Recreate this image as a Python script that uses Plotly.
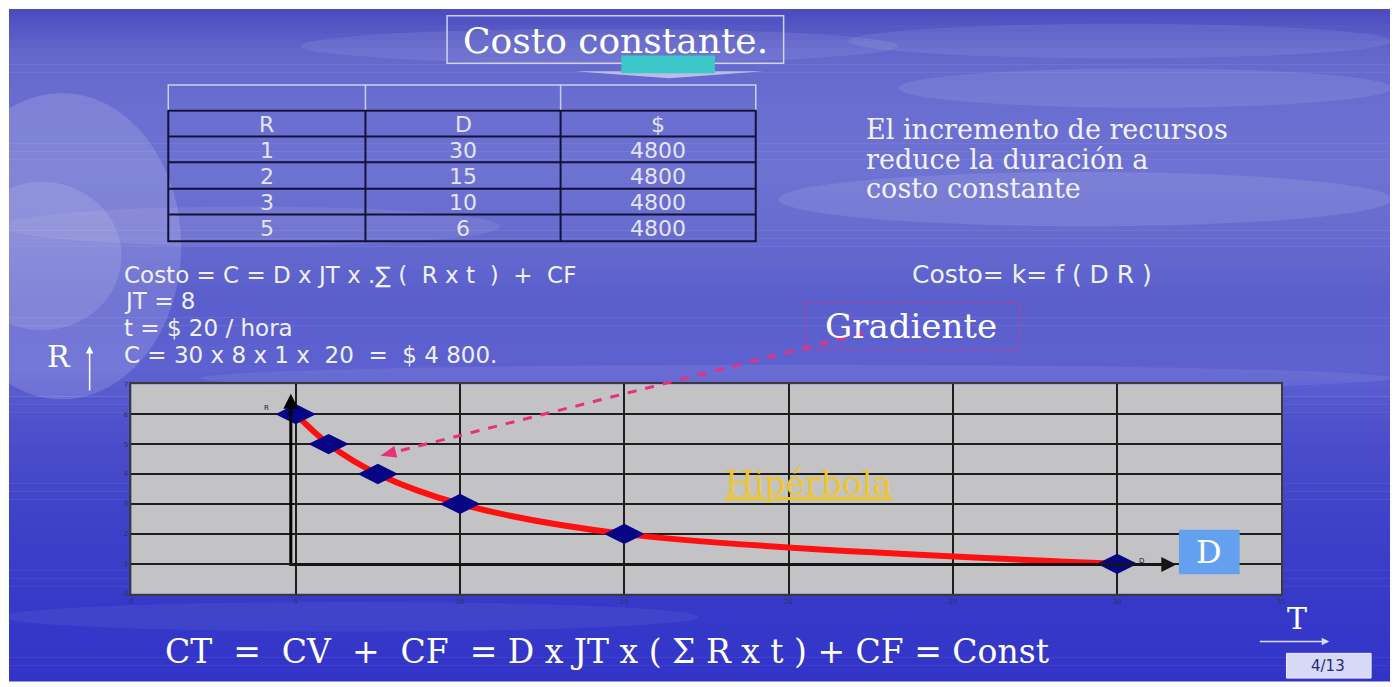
import plotly.graph_objects as go

# ---------------- data ----------------
chart_D = [5, 6, 7.5, 10, 15, 30]
chart_R = [6, 5, 4, 3, 2, 1]

table_header = ["R", "D", "$"]
table_R = [1, 2, 3, 5]
table_D = [30, 15, 10, 6]
table_cost = [4800, 4800, 4800, 4800]

x_ticks = [0, 5, 10, 15, 20, 25, 30, 35]
y_ticks = [0, 1, 2, 3, 4, 5, 6, 7]

W, H = 1396, 687


def px(x):
    return x / W


def py(y):
    return 1 - y / H


SERIF = "DejaVu Serif"
SANS = "DejaVu Sans"
nb = "\u00a0"

shapes = []
annotations = []


def txt(x, y, text, size, family=SANS, color="white", xanchor="left", pad=1):
    annotations.append(dict(x=px(x), y=py(y), xref="paper", yref="paper",
                            xanchor=xanchor, yanchor="middle", text=text,
                            showarrow=False, borderpad=pad,
                            font=dict(family=family, size=size, color=color)))


# ---------------- background (slide) ----------------
stops = [
    (5, (74, 76, 190)),
    (50, (100, 104, 204)),
    (110, (106, 110, 208)),
    (170, (110, 114, 210)),
    (240, (102, 106, 206)),
    (300, (90, 94, 204)),
    (370, (94, 98, 208)),
    (420, (78, 82, 204)),
    (520, (62, 66, 200)),
    (600, (54, 58, 200)),
    (685, (50, 52, 200)),
]


def col_at(y):
    for (y0, c0), (y1, c1) in zip(stops[:-1], stops[1:]):
        if y0 <= y <= y1:
            t = (y - y0) / (y1 - y0)
            return tuple(round(a + (b - a) * t) for a, b in zip(c0, c1))
    return stops[-1][1]


step = 8
y = 5
while y < 685:
    y2 = min(y + step, 685)
    c = col_at((y + y2) / 2)
    shapes.append(dict(type="rect", xref="paper", yref="paper", layer="below",
                       x0=px(7), x1=px(1394), y0=py(y2 + 0.5), y1=py(y),
                       fillcolor=f"rgb{c}", line=dict(width=0)))
    y = y2

# cloud streaks / glow
clouds = [
    (-60, 90, 180, 400, 0.14),
    (-40, 180, 120, 330, 0.12),
    (300, 25, 900, 60, 0.08),
    (850, 20, 1396, 55, 0.08),
    (900, 65, 1396, 105, 0.09),
    (780, 170, 1396, 225, 0.10),
    (0, 205, 500, 245, 0.08),
    (200, 365, 1396, 392, 0.07),
    (0, 605, 700, 635, 0.06),
]
for x0, y0, x1, y1, op in clouds:
    shapes.append(dict(type="circle", xref="paper", yref="paper", layer="below",
                       x0=px(x0), x1=px(x1), y0=py(y1), y1=py(y0),
                       fillcolor="white", opacity=op, line=dict(width=0)))
# white page margin on the left
shapes.append(dict(type="rect", xref="paper", yref="paper", layer="below",
                   x0=px(-100), x1=px(7), y0=0, y1=1, fillcolor="white", line=dict(width=0)))

# plot area background (grey)
shapes.append(dict(type="rect", xref="x domain", yref="y domain", layer="below",
                   x0=0, x1=1, y0=0, y1=1, fillcolor="#c3c3c6",
                   line=dict(width=0)))

# ---------------- title box ----------------
shapes.append(dict(type="rect", xref="paper", yref="paper",
                   x0=px(447), x1=px(785), y0=py(60), y1=py(12),
                   line=dict(color="rgba(220,222,245,0.9)", width=1.5)))
shapes.append(dict(type="path", xref="paper", yref="paper",
                   path=f"M {px(575)},{py(68)} L {px(765)},{py(68)} L {px(670)},{py(75)} Z",
                   fillcolor="rgba(200,205,235,0.85)", line=dict(width=0)))
shapes.append(dict(type="rect", xref="paper", yref="paper",
                   x0=px(622), x1=px(716), y0=py(70), y1=py(52),
                   fillcolor="#3cc8c8", line=dict(width=0)))
txt(616, 37, "Costo constante.", 36, SERIF, "white", "center")

# ---------------- table ----------------
tx = [167, 365, 561, 757]
ty = [82, 108, 134, 160, 187, 213, 240]
light = "rgba(215,218,240,0.9)"
dark = "#121238"
shapes.append(dict(type="rect", xref="paper", yref="paper",
                   x0=px(tx[0]), x1=px(tx[3]), y0=py(ty[1]), y1=py(ty[0]),
                   line=dict(color=light, width=1.5)))
for xx in tx[1:3]:
    shapes.append(dict(type="line", xref="paper", yref="paper",
                       x0=px(xx), x1=px(xx), y0=py(ty[1]), y1=py(ty[0]),
                       line=dict(color=light, width=1.5)))
shapes.append(dict(type="rect", xref="paper", yref="paper",
                   x0=px(tx[0]), x1=px(tx[3]), y0=py(ty[6]), y1=py(ty[1]),
                   line=dict(color=dark, width=2)))
for yy in ty[2:6]:
    shapes.append(dict(type="line", xref="paper", yref="paper",
                       x0=px(tx[0]), x1=px(tx[3]), y0=py(yy), y1=py(yy),
                       line=dict(color=dark, width=2)))
for xx in tx[1:3]:
    shapes.append(dict(type="line", xref="paper", yref="paper",
                       x0=px(xx), x1=px(xx), y0=py(ty[6]), y1=py(ty[1]),
                       line=dict(color=dark, width=2)))

col_centers = [(tx[i] + tx[i + 1]) / 2 for i in range(3)]
rows = [table_header] + [[str(a), str(b), str(c)] for a, b, c in zip(table_R, table_D, table_cost)]
for ri, row in enumerate(rows):
    yc = (ty[ri + 1] + ty[ri + 2]) / 2 + 1
    for ci, val in enumerate(row):
        txt(col_centers[ci], yc, val, 22, SANS, "#e4e4f0", "center", pad=0)

# ---------------- right text ----------------
for i, line in enumerate(["El incremento de recursos", "reduce la duración a", "costo constante"]):
    txt(867, 127 + 30 * i, line, 27, SERIF, "#f2f2fa", pad=0)

# ---------------- formulas ----------------
FS = 23
fc = "#f0f0f8"
txt(122, 274, f"Costo = C = D x JT x .∑ ( {nb}R x t {nb}) {nb}+ {nb}CF", FS, SANS, fc, pad=0)
txt(122, 301, "JT = 8", FS, SANS, fc, pad=0)
txt(122, 328, "t = $ 20 / hora", FS, SANS, fc, pad=0)
txt(122, 355, f"C = 30 x 8 x 1 x {nb}20 {nb}= {nb}$ 4 800.", FS, SANS, fc, pad=0)
txt(913, 274, "Costo= k= f ( D R )", 25, SANS, fc, pad=0)

# Gradiente box
shapes.append(dict(type="rect", xref="paper", yref="paper",
                   x0=px(806), x1=px(1022), y0=py(350), y1=py(303),
                   line=dict(color="#c83c8c", width=1.2, dash="dot")))
txt(913, 326, "Gradiente", 34, SERIF, "white", "center")

# dashed pink arrow
sx, sy = 865, 333
hx, hy = 380, 457
dx, dy = hx - sx, hy - sy
L = (dx * dx + dy * dy) ** 0.5
ux, uy = dx / L, dy / L
bx, by = hx - 16 * ux, hy - 16 * uy
nx_, ny_ = -uy, ux
shapes.append(dict(type="line", xref="paper", yref="paper",
                   x0=px(sx), y0=py(sy), x1=px(bx), y1=py(by),
                   line=dict(color="#e8307c", width=3, dash="dash")))
shapes.append(dict(type="path", xref="paper", yref="paper",
                   path=(f"M {px(hx)},{py(hy)} L {px(bx + 6 * nx_)},{py(by + 6 * ny_)} "
                         f"L {px(bx - 6 * nx_)},{py(by - 6 * ny_)} Z"),
                   fillcolor="#e8307c", line=dict(width=0)))

# R label with arrow
txt(57, 357, "R", 30, SERIF, "white", "center")
annotations.append(dict(x=px(88), y=py(346), xref="paper", yref="paper",
                        ax=0, ay=46, text="", showarrow=True, arrowhead=2,
                        arrowsize=1, arrowwidth=1.5, arrowcolor="white"))

# ---------------- chart ----------------
fig = go.Figure()
fig.add_trace(go.Scatter(x=chart_D, y=chart_R, mode="lines",
                         line=dict(color="#ff1010", width=6, shape="spline", smoothing=1.0),
                         hoverinfo="skip", showlegend=False))
fig.add_trace(go.Scatter(x=chart_D, y=chart_R, mode="markers",
                         marker=dict(symbol="diamond-wide", size=29, color="#050585",
                                     line=dict(width=0)),
                         showlegend=False))

# black axes arrows inside chart
annotations.append(dict(x=4.85, y=6.68, xref="x", yref="y", ax=4.85, ay=0.98,
                        axref="x", ayref="y", text="", showarrow=True, arrowhead=2,
                        arrowsize=1, arrowwidth=3, arrowcolor="black", standoff=0))
annotations.append(dict(x=31.8, y=0.98, xref="x", yref="y", ax=4.75, ay=0.98,
                        axref="x", ayref="y", text="", showarrow=True, arrowhead=2,
                        arrowsize=1, arrowwidth=3, arrowcolor="#151515", standoff=0))
annotations.append(dict(x=4.1, y=6.22, xref="x", yref="y", text="R", showarrow=False,
                        xanchor="center", yanchor="middle",
                        font=dict(family=SANS, size=7, color="#222")))
annotations.append(dict(x=30.75, y=1.1, xref="x", yref="y", text="D", showarrow=False,
                        xanchor="center", yanchor="middle",
                        font=dict(family=SANS, size=7, color="#222")))

annotations.append(dict(x=20.6, y=3.7, xref="x", yref="y", text="<u>Hipérbola</u>",
                        showarrow=False, xanchor="center", yanchor="middle",
                        font=dict(family=SERIF, size=33, color="#eec62a")))

# D box
shapes.append(dict(type="rect", xref="paper", yref="paper",
                   x0=px(1182), x1=px(1243), y0=py(577), y1=py(532),
                   fillcolor="#64a0f0", line=dict(width=0)))
txt(1212.5, 554, "D", 32, SERIF, "white", "center")

# T with arrow
txt(1301, 622, "T", 30, SERIF, "white", "center")
annotations.append(dict(x=px(1333), y=py(645), xref="paper", yref="paper",
                        ax=-71, ay=0, text="", showarrow=True, arrowhead=2,
                        arrowsize=1, arrowwidth=1.5, arrowcolor="#d8ddf8"))

# bottom formula
txt(162, 655, f"CT {nb}= {nb}CV {nb}+ {nb}CF {nb}= D x JT x ( Σ R x t ) + CF = Const", 33, SERIF)

# page box
shapes.append(dict(type="rect", xref="paper", yref="paper",
                   x0=px(1290), x1=px(1375), y0=py(682), y1=py(657),
                   fillcolor="#d6daf6", line=dict(color="#eef0ff", width=1)))
txt(1332, 669.5, "4/13", 15, SANS, "#2a2a78", "center")

fig.update_layout(
    width=W, height=H,
    margin=dict(l=0, r=0, t=0, b=0),
    paper_bgcolor="white",
    plot_bgcolor="rgba(0,0,0,0)",
    shapes=shapes,
    annotations=annotations,
    showlegend=False,
    xaxis=dict(domain=[px(130), px(1285)], range=[0, 35], tickvals=x_ticks,
               showgrid=True, gridcolor="#1e1e1e", gridwidth=1.5, zeroline=False,
               showline=True, linecolor="#3a3a3a", linewidth=1.5, mirror=True,
               tickfont=dict(family=SANS, size=7, color="#30305a"), ticks=""),
    yaxis=dict(domain=[py(596.7), py(384.7)], range=[0, 7], tickvals=y_ticks,
               showgrid=True, gridcolor="#1e1e1e", gridwidth=1.5, zeroline=False,
               showline=True, linecolor="#3a3a3a", linewidth=1.5, mirror=True,
               tickfont=dict(family=SANS, size=7, color="#30305a"), ticks=""),
)

fig.write_html("out.html")
